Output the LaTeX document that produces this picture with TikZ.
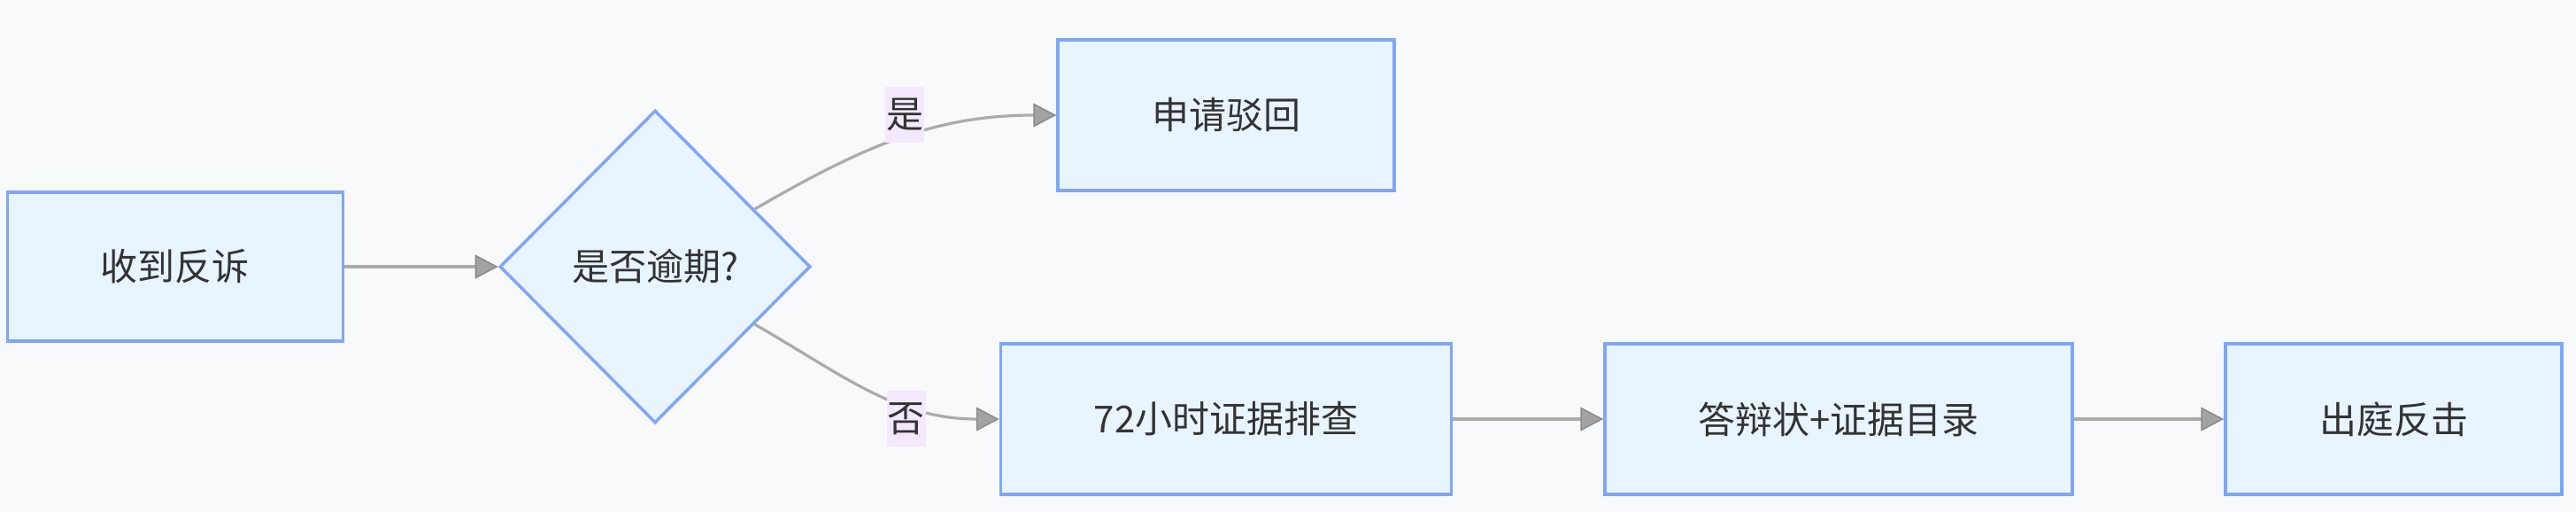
\documentclass[tikz,border=0pt]{standalone}
\usepackage{fontspec}
\setmainfont{Noto Sans CJK SC}
\usetikzlibrary{shapes.geometric,arrows.meta}

\definecolor{bgcol}{HTML}{F8F9FB}
\definecolor{boxfill}{HTML}{E8F4FF}
\definecolor{boxline}{HTML}{7FA6F7}
\definecolor{linecol}{HTML}{ABABAB}
\definecolor{tipcol}{HTML}{A3A3A3}
\definecolor{tipline}{HTML}{8C8C8C}
\definecolor{lblfill}{HTML}{F3E8FD}
\definecolor{txtcol}{HTML}{333333}

\tikzstyle{process} = [rectangle, minimum height=85pt, text centered, draw=boxline, line width=1.75pt, fill=boxfill, text=txtcol, font=\fontsize{21pt}{25pt}\selectfont]
\tikzstyle{decision} = [diamond, aspect=1, minimum width=175.5pt, minimum height=176.5pt, inner sep=0pt, text centered, draw=boxline, line width=1.75pt, fill=boxfill, text=txtcol, font=\fontsize{21pt}{25pt}\selectfont]
\tikzstyle{yesno} = [rectangle, fill=lblfill, minimum width=22pt, minimum height=31.5pt, inner sep=0pt, text=txtcol, font=\fontsize{21pt}{25pt}\selectfont]
\tikzstyle{arrow} = [draw=linecol, line width=1.6pt, -{Triangle[length=13pt, width=13.5pt, fill=tipcol, color=tipline, line width=0.8pt]}]

\begin{document}
\begin{tikzpicture}[node distance=250pt]
	\fill [bgcol] (-99pt,-138.5pt) rectangle (1356pt,150.5pt);

	\node (receive) [process, minimum width=189.5pt, minimum height=84pt] {收到反诉};
	\node (overdue) [decision, right of=receive, xshift=21pt] {是否逾期?};
	\node (reject) [process, minimum width=190pt, right of=overdue, xshift=72.5pt, yshift=85.5pt] {申请驳回};
	\node (check) [process, minimum width=254.5pt, right of=overdue, xshift=72.5pt, yshift=-86pt] {72小时证据排查};
	\node (answer) [process, minimum width=264pt, right of=check, xshift=96pt] {答辩状+证据目录};
	\node (court) [process, minimum width=190pt, right of=answer, xshift=63.5pt] {出庭反击};

	\draw [arrow] (receive) -- (overdue);
	\draw [arrow] (overdue) to[out=30, in=180] node[yesno, pos=0.52, yshift=12.5pt] {是} (reject);
	\draw [arrow] (overdue) to[out=-30, in=180] node[yesno, pos=0.65, yshift=-8pt] {否} (check);
	\draw [arrow] (check) -- (answer);
	\draw [arrow] (answer) -- (court);
	\end{tikzpicture}
\end{document}
